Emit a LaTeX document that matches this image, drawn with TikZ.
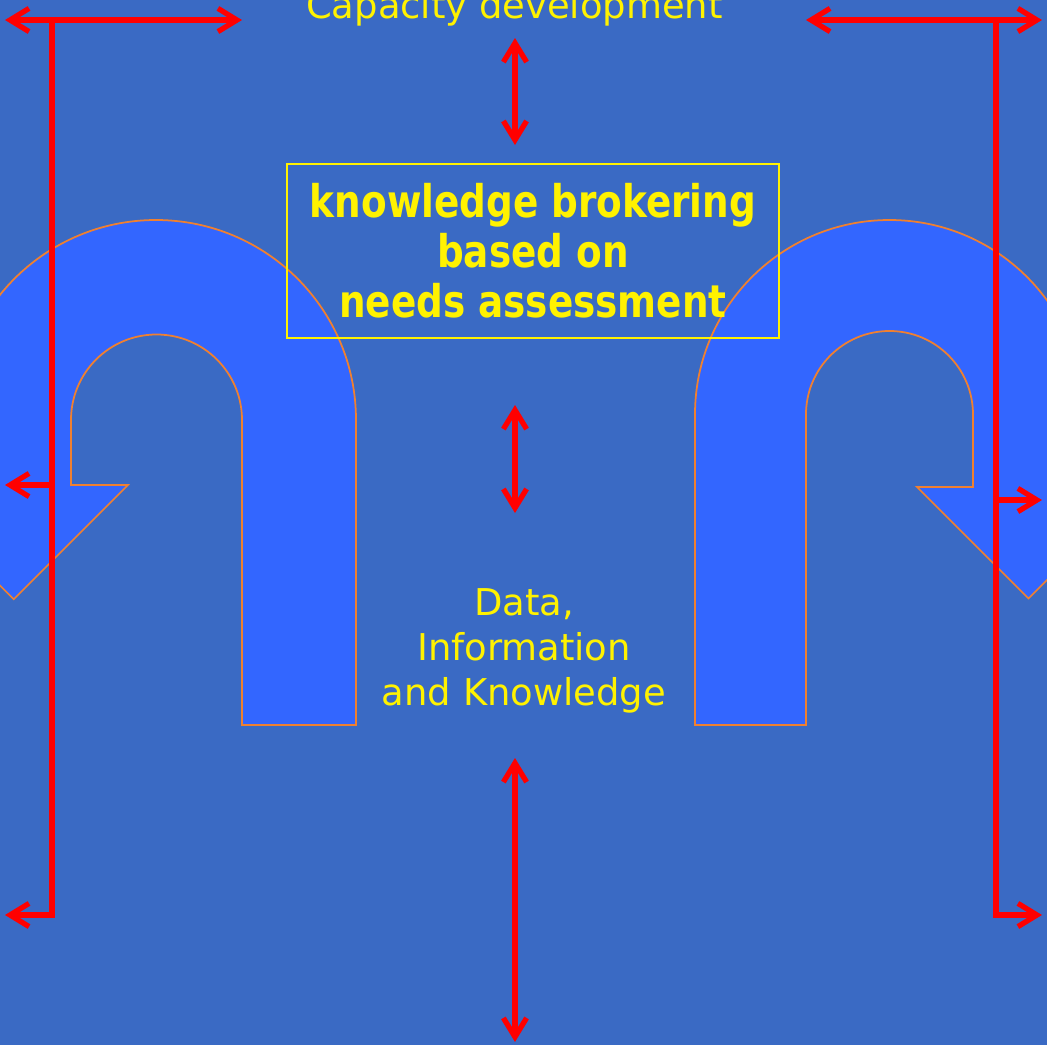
\documentclass[tikz,border=0pt]{standalone}
\usepackage{fontspec}
\setmainfont{DejaVu Sans}
\newfontfamily\brokerfont{DejaVu Sans}[FakeStretch=0.83]
\usetikzlibrary{arrows.meta}
\definecolor{slide}{RGB}{58,106,196}
\definecolor{turnblue}{RGB}{51,102,255}
\definecolor{turnorange}{RGB}{240,128,48}
\tikzset{
	redline/.style={draw=red, line width=1.5pt, line join=miter},
	turn/.style={fill=turnblue, draw=turnorange, line width=0.5pt},
	label/.style={text=yellow, inner sep=0pt, align=center, font=\fontsize{10.5pt}{12.8pt}\selectfont},
	brokerbox/.style={draw=yellow, line width=0.6pt, text=yellow, align=center,
		minimum width=4.92cm, minimum height=1.74cm,
		font=\brokerfont\bfseries\fontsize{12.8pt}{14.2pt}\selectfont},
}
\begin{document}
\begin{tikzpicture}[x=0.01cm, y=0.01cm, >={Straight Barb[length=5.4pt,width=6.6pt]}]
	% slide background
	\fill[slide] (0,0) rectangle (1047,-1045);
	\useasboundingbox (0,0) rectangle (1047,-1045);
	\clip (0,0) rectangle (1047,-1045);

	% the two u-turn arrows
	\draw[turn] (242,-725) -- (356,-725) -- (356,-420)
		arc[start angle=0, end angle=180, radius=200]
		-- (-43.5,-485) -- (-100.5,-485) -- (13.75,-599.25) -- (128,-485) -- (71,-485) -- (71,-420)
		arc[start angle=180, end angle=0, radius=85.5] -- cycle;
	\draw[turn] (695,-725) -- (806,-725) -- (806,-414.5)
		arc[start angle=180, end angle=0, radius=83.5]
		-- (973,-487) -- (917,-487) -- (1028.5,-598.5) -- (1140,-487) -- (1084,-487) -- (1084,-414.5)
		arc[start angle=0, end angle=180, radius=194.5] -- cycle;

	% texts
	\node[label, anchor=base] (cap) at (514.5,-18) {Capacity development};
	\node[brokerbox] (broker) at (533,-251) {knowledge brokering\\based on\\needs assessment};
	\node[label] (dik) at (524,-651) {Data,\\Information\\and Knowledge};

	% left bracket
	\coordinate (lt1) at (5,-20);
	\coordinate (lt2) at (242,-20);
	\coordinate (lv1) at (52,-20);
	\coordinate (lv2) at (52,-915);
	\coordinate (lm) at (52,-485);
	\coordinate (lmt) at (5,-485);
	\coordinate (lbt) at (5,-915);
	\draw[redline, <->] (lt1) -- (lt2);
	\draw[redline, ->] (lv1) -- (lv2) -- (lbt);
	\draw[redline, ->] (lm) -- (lmt);

	% right bracket
	\coordinate (rt1) at (806,-20);
	\coordinate (rt2) at (1042,-20);
	\coordinate (rv1) at (996,-20);
	\coordinate (rv2) at (996,-915);
	\coordinate (rm) at (996,-500);
	\coordinate (rmt) at (1042,-500);
	\coordinate (rbt) at (1042,-915);
	\draw[redline, <->] (rt1) -- (rt2);
	\draw[redline, ->] (rv1) -- (rv2) -- (rbt);
	\draw[redline, ->] (rm) -- (rmt);

	% middle arrows
	\coordinate (c1) at (515,-38);
	\coordinate (c2) at (515,-145);
	\coordinate (c3) at (515,-405);
	\coordinate (c4) at (515,-513);
	\coordinate (c5) at (515,-758);
	\coordinate (c6) at (515,-1042);
	\draw[redline, <->] (c1) -- (c2);
	\draw[redline, <->] (c3) -- (c4);
	\draw[redline, <->] (c5) -- (c6);
\end{tikzpicture}
\end{document}
